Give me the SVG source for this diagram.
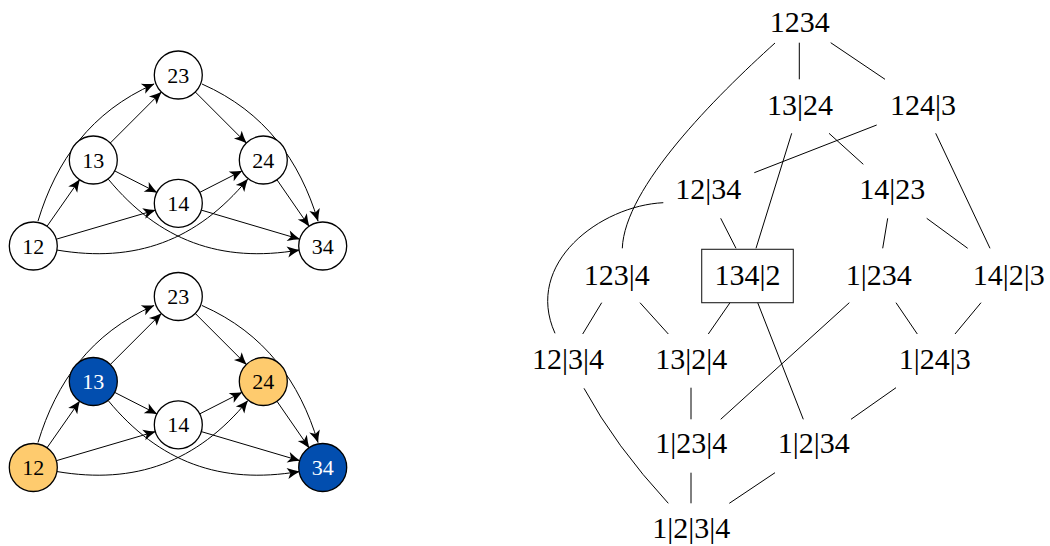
<svg xmlns="http://www.w3.org/2000/svg" width="1050" height="546" viewBox="0 0 1050 546">
<style>
.nd{fill:#fff;stroke:#000;stroke-width:1.3}
.or{fill:#FECB6E}
.bl{fill:#024EAF}
.nt{font-family:"Liberation Serif","DejaVu Serif",serif;font-size:22px;text-anchor:middle;fill:#000}
.wt{fill:#fff}
.ar{fill:none;stroke:#000;stroke-width:1;marker-end:url(#arr)}
.ln{fill:none;stroke:#000;stroke-width:1}
.lb{font-family:"Liberation Serif","DejaVu Serif",serif;font-size:30px;text-anchor:middle;fill:#000}
</style>
<defs>
<marker id="arr" viewBox="-14 -7 15 14" markerWidth="15" markerHeight="14" refX="0" refY="0" orient="auto" markerUnits="userSpaceOnUse">
<path d="M0.5,0 Q-5.5,-2 -12,-5.5 L-9,0 L-12,5.5 Q-5.5,2 0.5,0 Z" fill="#000"/>
</marker>
</defs>
<rect width="1050" height="546" fill="#fff"/>

<!-- top graph connectors -->
<g id="edges-top">
<path class="ar" d="M47,226.3 L79.6,179.7"/>
<path class="ar" d="M38,221 C56.3,160.6 91,111.7 154,84"/>
<path class="ar" d="M56.3,239.2 L155.3,210.1"/>
<path class="ar" d="M56.7,250 C135.3,263.4 196.9,240.6 247.7,179.2"/>
<path class="ar" d="M110.3,143 L161.3,92"/>
<path class="ar" d="M114.7,170.9 L156.9,192.4"/>
<path class="ar" d="M108.3,179.2 C159.1,240.6 220.7,263.4 299.3,250"/>
<path class="ar" d="M199.7,192.4 L241.9,170.9"/>
<path class="ar" d="M201.3,210.1 L299.7,239.2"/>
<path class="ar" d="M195.3,92 L246.3,143"/>
<path class="ar" d="M202,84 C265,111.7 299.7,160.6 318,221"/>
<path class="ar" d="M276.9,179.7 L309.1,226.3"/>
</g>
<g id="a23"><circle class="nd" cx="178.3" cy="75" r="24"/><text class="nt" x="178.3" y="82.5">23</text></g>
<g id="a13"><circle class="nd" cx="93.3" cy="160" r="24"/><text class="nt" x="93.3" y="167.5">13</text></g>
<g id="a24"><circle class="nd" cx="263.3" cy="160" r="24"/><text class="nt" x="263.3" y="167.5">24</text></g>
<g id="a14"><circle class="nd" cx="178.3" cy="203.3" r="24"/><text class="nt" x="178.3" y="210.8">14</text></g>
<g id="a12"><circle class="nd" cx="33.3" cy="246" r="24"/><text class="nt" x="33.3" y="253.5">12</text></g>
<g id="a34"><circle class="nd" cx="322.7" cy="246" r="24"/><text class="nt" x="322.7" y="253.5">34</text></g>

<!-- bottom graph -->
<g transform="translate(0,221.5)">
<g id="edges-bottom">
<path class="ar" d="M47,226.3 L79.6,179.7"/>
<path class="ar" d="M38,221 C56.3,160.6 91,111.7 154,84"/>
<path class="ar" d="M56.3,239.2 L155.3,210.1"/>
<path class="ar" d="M56.7,250 C135.3,263.4 196.9,240.6 247.7,179.2"/>
<path class="ar" d="M110.3,143 L161.3,92"/>
<path class="ar" d="M114.7,170.9 L156.9,192.4"/>
<path class="ar" d="M108.3,179.2 C159.1,240.6 220.7,263.4 299.3,250"/>
<path class="ar" d="M199.7,192.4 L241.9,170.9"/>
<path class="ar" d="M201.3,210.1 L299.7,239.2"/>
<path class="ar" d="M195.3,92 L246.3,143"/>
<path class="ar" d="M202,84 C265,111.7 299.7,160.6 318,221"/>
<path class="ar" d="M276.9,179.7 L309.1,226.3"/>
</g>
<g id="b23"><circle class="nd" cx="178.3" cy="75" r="24"/><text class="nt" x="178.3" y="82.5">23</text></g>
<g id="b13"><circle class="nd bl" cx="93.3" cy="160" r="24"/><text class="nt wt" x="93.3" y="167.5">13</text></g>
<g id="b24"><circle class="nd or" cx="263.3" cy="160" r="24"/><text class="nt" x="263.3" y="167.5">24</text></g>
<g id="b14"><circle class="nd" cx="178.3" cy="203.3" r="24"/><text class="nt" x="178.3" y="210.8">14</text></g>
<g id="b12"><circle class="nd or" cx="33.3" cy="246" r="24"/><text class="nt" x="33.3" y="253.5">12</text></g>
<g id="b34"><circle class="nd bl" cx="322.7" cy="246" r="24"/><text class="nt wt" x="322.7" y="253.5">34</text></g>
</g>

<!-- lattice connectors -->
<g id="lattice-edges">
<path class="ln" d="M799.3,42.7 L799.3,79.3"/>
<path class="ln" d="M830.7,42.7 L885,79.3"/>
<path class="ln" d="M775,43 C715.5,96.8 624.5,187.5 622.3,248.3"/>
<path class="ln" d="M876.7,125 L754.3,172.7"/>
<path class="ln" d="M791.7,133.3 L756,248.3"/>
<path class="ln" d="M829,133.3 L863.3,164.3"/>
<path class="ln" d="M935.7,133.3 L990,248.3"/>
<path class="ln" d="M663.3,202.7 C600.5,205.7 523.4,263.1 555,333.3"/>
<path class="ln" d="M720.7,218.3 L736,248.3"/>
<path class="ln" d="M887.7,218.3 L882.7,248.3"/>
<path class="ln" d="M926.7,218.3 L967.7,248.3"/>
<path class="ln" d="M601.7,302.7 L582.7,334"/>
<path class="ln" d="M640,302.7 L668.3,334"/>
<path class="ln" d="M730,302.7 L708.3,334"/>
<path class="ln" d="M757.7,302.7 L803.3,419.3"/>
<path class="ln" d="M849.3,302.7 L720.7,419.3"/>
<path class="ln" d="M896,302.7 L917.3,334"/>
<path class="ln" d="M981,302.7 L955,334"/>
<path class="ln" d="M691,387.7 L691,419.3"/>
<path class="ln" d="M896,387.7 L851,419.3"/>
<path class="ln" d="M584,388.3 Q615.2,445.8 668.3,503.3"/>
<path class="ln" d="M691,472.7 L691,503.3"/>
<path class="ln" d="M775,472.7 L729.3,503.3"/>
</g>

<g id="n1234"><text class="lb" x="799.7" y="32.3">1234</text></g>
<g id="n13_24"><text class="lb" x="800" y="115">13|24</text></g>
<g id="n124_3"><text class="lb" x="923" y="115">124|3</text></g>
<g id="n12_34"><text class="lb" x="708.3" y="199">12|34</text></g>
<g id="n14_23"><text class="lb" x="892.2" y="199">14|23</text></g>
<g id="n123_4"><text class="lb" x="616.7" y="285">123|4</text></g>
<g id="n134_2"><rect x="701.7" y="249.3" width="91.6" height="53.4" fill="none" stroke="#222" stroke-width="1.1"/><text class="lb" x="747.5" y="285">134|2</text></g>
<g id="n1_234"><text class="lb" x="878.7" y="285">1|234</text></g>
<g id="n14_2_3"><text class="lb" x="1008.7" y="285">14|2|3</text></g>
<g id="n12_3_4"><text class="lb" x="568" y="369.3">12|3|4</text></g>
<g id="n13_2_4"><text class="lb" x="691.3" y="369.3">13|2|4</text></g>
<g id="n1_24_3"><text class="lb" x="934.7" y="369.3">1|24|3</text></g>
<g id="n1_23_4"><text class="lb" x="691.3" y="453.3">1|23|4</text></g>
<g id="n1_2_34"><text class="lb" x="813.8" y="453.3">1|2|34</text></g>
<g id="n1_2_3_4"><text class="lb" x="691.2" y="538.3">1|2|3|4</text></g>
</svg>
